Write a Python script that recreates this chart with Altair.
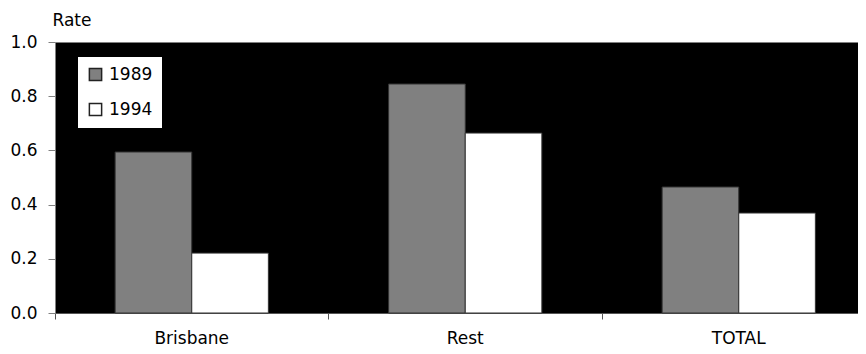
import altair as alt
import pandas as pd

categories = ["Brisbane", "Rest", "TOTAL"]
years = ["1989", "1994"]
rate_1989 = [0.594, 0.845, 0.465]
rate_1994 = [0.221, 0.664, 0.369]
y_ticks = [0.0, 0.2, 0.4, 0.6, 0.8, 1.0]
bar_colors = ["#808080", "#ffffff"]

rows = []
for c, a, b in zip(categories, rate_1989, rate_1994):
    rows.append({"region": c, "year": years[0], "rate": a})
    rows.append({"region": c, "year": years[1], "rate": b})
df = pd.DataFrame(rows)

FONT = "DejaVu Sans"
FS = 17
BAND = 273.5
PLOT_W = 803
PLOT_H = 271

bars = alt.Chart(df).mark_bar(stroke="#333333", strokeWidth=1).encode(
    x=alt.X(
        "region:N",
        sort=categories,
        scale=alt.Scale(range=[0, 3 * BAND], paddingInner=0, paddingOuter=0),
        axis=alt.Axis(
            title=None,
            bandPosition=0,
            labelAngle=0,
            labelPadding=11,
            tickSize=6,
            domainColor="#555555",
            tickColor="#555555",
        ),
    ),
    xOffset=alt.XOffset(
        "year:N",
        sort=years,
        scale=alt.Scale(paddingOuter=0.785, paddingInner=0.0),
    ),
    y=alt.Y(
        "rate:Q",
        scale=alt.Scale(domain=[0, 1]),
        axis=alt.Axis(
            values=y_ticks,
            format=".1f",
            title="Rate",
            titleAngle=0,
            titleX=-3,
            titleY=-17,
            titleAlign="left",
            titleBaseline="alphabetic",
            tickSize=7,
            labelPadding=11,
            grid=False,
            domainColor="#808080",
            tickColor="#808080",
        ),
    ),
    color=alt.Color(
        "year:N",
        sort=years,
        scale=alt.Scale(domain=years, range=bar_colors),
        legend=alt.Legend(
            title=None,
            orient="none",
            legendX=23,
            legendY=15,
            fillColor="white",
            padding=9,
            symbolType="square",
            symbolSize=150,
            symbolStrokeColor="#222222",
            symbolStrokeWidth=1.5,
            symbolOpacity=1,
            labelFont=FONT,
            labelFontSize=FS,
            labelColor="black",
            labelOffset=5,
            rowPadding=16,
        ),
    ),
).properties(
    width=PLOT_W,
    height=PLOT_H,
    background="white",
    autosize=alt.AutoSizeParams(type="none"),
    padding={"left": 47, "top": 34, "right": 0, "bottom": 34},
)

chart = bars.configure_view(fill="black", strokeOpacity=0).configure_axis(
    labelFont=FONT,
    labelFontSize=FS,
    labelColor="black",
    titleFont=FONT,
    titleFontSize=FS,
    titleColor="black",
    titleFontWeight="normal",
    grid=False,
)

chart.save("out.html", embed_options={"renderer": "svg", "actions": False})
